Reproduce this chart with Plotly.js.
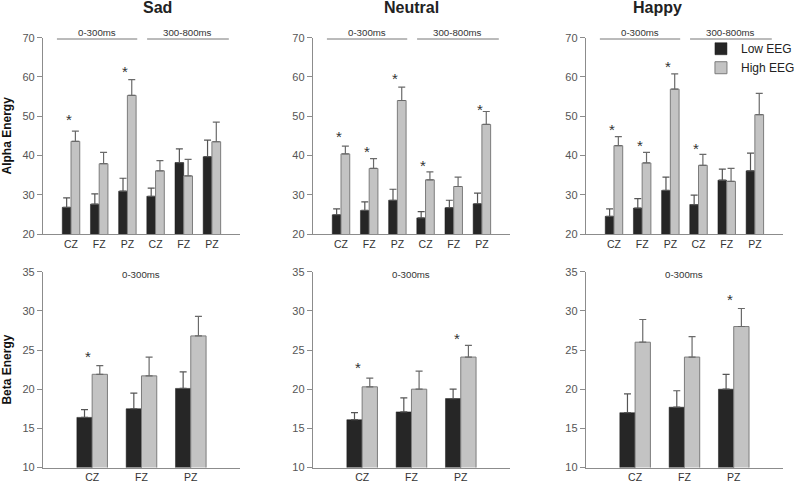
<!DOCTYPE html>
<html>
<head>
<meta charset="utf-8">
<script src="https://cdn.plot.ly/plotly-3.0.1.min.js"></script>
<style>html,body{margin:0;padding:0;background:#fff;}#chart{width:800px;height:482px;}</style>
</head>
<body>
<div id="chart"></div>
<script>
// ---------- data ----------
const emotions = ['Sad', 'Neutral', 'Happy'];
const alphaCats = ['CZ', 'FZ', 'PZ', 'CZ', 'FZ', 'PZ'];
const betaCats = ['CZ', 'FZ', 'PZ'];
const seriesNames = ['Low EEG', 'High EEG'];
const windowLabels = ['0-300ms', '300-800ms'];

// Alpha energy (0-300ms: first three, 300-800ms: last three)
const sadAlphaLow = [26.8, 27.6, 30.9, 29.6, 38.2, 39.7];
const sadAlphaLowErr = [2.4, 2.6, 3.3, 2.1, 3.5, 4.2];
const sadAlphaHigh = [43.6, 37.9, 55.3, 36.1, 34.8, 43.5];
const sadAlphaHighErr = [2.6, 2.9, 4.0, 2.6, 4.2, 5.0];

const neutralAlphaLow = [24.9, 26.0, 28.6, 24.1, 26.7, 27.7];
const neutralAlphaLowErr = [1.5, 2.2, 2.8, 1.6, 1.9, 2.7];
const neutralAlphaHigh = [40.4, 36.7, 54.0, 33.8, 32.1, 47.9];
const neutralAlphaHighErr = [2.0, 2.5, 3.4, 2.0, 2.4, 3.3];

const happyAlphaLow = [24.5, 26.6, 31.1, 27.5, 33.7, 36.1];
const happyAlphaLowErr = [1.9, 2.4, 3.4, 2.4, 2.8, 4.5];
const happyAlphaHigh = [42.5, 38.1, 56.9, 37.5, 33.4, 50.4];
const happyAlphaHighErr = [2.3, 2.7, 3.9, 2.8, 3.3, 5.4];

// Beta energy (0-300ms)
const sadBetaLow = [16.4, 17.5, 20.1];
const sadBetaLowErr = [1.0, 2.0, 2.1];
const sadBetaHigh = [21.9, 21.7, 26.8];
const sadBetaHighErr = [1.1, 2.4, 2.5];

const neutralBetaLow = [16.1, 17.1, 18.8];
const neutralBetaLowErr = [0.9, 1.8, 1.2];
const neutralBetaHigh = [20.3, 20.0, 24.1];
const neutralBetaHighErr = [1.1, 2.3, 1.5];

const happyBetaLow = [17.0, 17.7, 20.0];
const happyBetaLowErr = [2.4, 2.1, 1.9];
const happyBetaHigh = [26.0, 24.1, 28.0];
const happyBetaHighErr = [2.9, 2.6, 2.3];

// significance markers: category index and height
const sadAlphaStarIdx = [0, 2];
const sadAlphaStarY = [49.9, 62.2];
const neutralAlphaStarIdx = [0, 1, 2, 3, 5];
const neutralAlphaStarY = [45.5, 41.8, 60.3, 38.1, 52.5];
const happyAlphaStarIdx = [0, 1, 2, 3];
const happyAlphaStarY = [47.5, 43.3, 63.3, 42.6];
const sadBetaStarIdx = [0];
const sadBetaStarY = [24.6];
const neutralBetaStarIdx = [0, 2];
const neutralBetaStarY = [23.1, 26.8];
const happyBetaStarIdx = [2];
const happyBetaStarY = [31.8];

const alphaTicks = [20, 30, 40, 50, 60, 70];
const betaTicks = [10, 15, 20, 25, 30, 35];

// ---------- styling ----------
const FONT = 'Liberation Sans, Arial, sans-serif';
const LOW_COLOR = '#262626';
const HIGH_COLOR = '#c3c3c3';
const HIGH_LINE = '#7c7c7c';
const AXIS_COLOR = '#8c8c8c';

const panels = [
  {low: sadAlphaLow, lowErr: sadAlphaLowErr, high: sadAlphaHigh, highErr: sadAlphaHighErr, cats: alphaCats, starIdx: sadAlphaStarIdx, starY: sadAlphaStarY, row: 0, col: 0},
  {low: neutralAlphaLow, lowErr: neutralAlphaLowErr, high: neutralAlphaHigh, highErr: neutralAlphaHighErr, cats: alphaCats, starIdx: neutralAlphaStarIdx, starY: neutralAlphaStarY, row: 0, col: 1},
  {low: happyAlphaLow, lowErr: happyAlphaLowErr, high: happyAlphaHigh, highErr: happyAlphaHighErr, cats: alphaCats, starIdx: happyAlphaStarIdx, starY: happyAlphaStarY, row: 0, col: 2},
  {low: sadBetaLow, lowErr: sadBetaLowErr, high: sadBetaHigh, highErr: sadBetaHighErr, cats: betaCats, starIdx: sadBetaStarIdx, starY: sadBetaStarY, row: 1, col: 0},
  {low: neutralBetaLow, lowErr: neutralBetaLowErr, high: neutralBetaHigh, highErr: neutralBetaHighErr, cats: betaCats, starIdx: neutralBetaStarIdx, starY: neutralBetaStarY, row: 1, col: 1},
  {low: happyBetaLow, lowErr: happyBetaLowErr, high: happyBetaHigh, highErr: happyBetaHighErr, cats: betaCats, starIdx: happyBetaStarIdx, starY: happyBetaStarY, row: 1, col: 2}
];

const W = 800, H = 482;
const colX = [[43, 241], [314, 512], [588, 786]];
const rowY = [[37.7, 234], [271.7, 467.5]];

const traces = [];
const layout = {
  width: W, height: H,
  margin: {l: 0, r: 0, t: 0, b: 0},
  paper_bgcolor: '#fff', plot_bgcolor: '#fff',
  barmode: 'group', bargap: 0.38, bargroupgap: 0,
  font: {family: FONT, size: 11, color: '#333'},
  showlegend: true,
  legend: {x: 0.8795, y: 0.929, xanchor: 'left', yanchor: 'top', bgcolor: 'rgba(0,0,0,0)',
           font: {family: FONT, size: 12, color: '#222'}, tracegroupgap: 0, itemwidth: 30},
  annotations: [], shapes: []
};

panels.forEach((p, i) => {
  const n = i + 1;
  const xa = 'x' + (n === 1 ? '' : n), ya = 'y' + (n === 1 ? '' : n);
  const xKey = 'xaxis' + (n === 1 ? '' : n), yKey = 'yaxis' + (n === 1 ? '' : n);
  const pos = p.cats.map((_, k) => k);
  const errStyle = (arr, color) => ({type: 'data', symmetric: false, array: arr, arrayminus: arr.map(() => 0),
                                      color: color, thickness: 1.2, width: 3.5});
  traces.push({type: 'bar', x: pos, y: p.low, name: seriesNames[0], legendgroup: 'low', showlegend: i === 2,
               marker: {color: LOW_COLOR, line: {color: '#1a1a1a', width: 0.5}},
               error_y: errStyle(p.lowErr, '#555'), xaxis: xa, yaxis: ya, hoverinfo: 'y'});
  traces.push({type: 'bar', x: pos, y: p.high, name: seriesNames[1], legendgroup: 'high', showlegend: i === 2,
               marker: {color: HIGH_COLOR, line: {color: HIGH_LINE, width: 1}},
               error_y: errStyle(p.highErr, '#6a6a6a'), xaxis: xa, yaxis: ya, hoverinfo: 'y'});
  // significance asterisks, placed through the panel's own axes
  p.starIdx.forEach((k, j) => {
    layout.annotations.push({xref: xa, yref: ya, x: k - 0.08, y: p.starY[j], text: '*', showarrow: false,
                             yanchor: 'middle', yshift: -3,
                             font: {family: FONT, size: 15, color: '#333'}});
  });

  const cx = colX[p.col], ry = rowY[p.row];
  layout[xKey] = {domain: [cx[0] / W, cx[1] / W], anchor: ya, range: [-1, p.cats.length],
                  tickmode: 'array', tickvals: pos, ticktext: p.cats, ticks: '',
                  showline: true, linecolor: AXIS_COLOR, linewidth: 1, showgrid: false, zeroline: false,
                  tickfont: {family: FONT, size: 10.5, color: '#333'}, fixedrange: true};
  const ticks = p.row === 0 ? alphaTicks : betaTicks;
  layout[yKey] = {domain: [1 - ry[1] / H, 1 - ry[0] / H], anchor: xa,
                  range: [ticks[0], ticks[ticks.length - 1]], tickmode: 'array', tickvals: ticks,
                  ticks: 'outside', ticklen: 5, tickcolor: AXIS_COLOR, tickwidth: 1,
                  showline: true, linecolor: AXIS_COLOR, linewidth: 1, showgrid: false, zeroline: false,
                  tickfont: {family: FONT, size: 11, color: '#555'}, fixedrange: true};
  if (p.col === 0) {
    layout[yKey].title = {text: p.row === 0 ? 'Alpha Energy' : 'Beta Energy', standoff: 13,
                          font: {family: FONT, size: 12, color: '#111', weight: 'bold'}};
  }

  // time-window brackets
  if (p.row === 0) {
    const spans = [[-0.5, 2.35], [2.7, 5.6]];
    spans.forEach((s, k) => {
      layout.shapes.push({type: 'line', xref: xa, yref: 'paper', x0: s[0], x1: s[1],
                          y0: 1 - 39 / H, y1: 1 - 39 / H, line: {color: '#777', width: 1}});
      layout.annotations.push({xref: xa, yref: 'paper', x: (s[0] + s[1]) / 2, y: 1 - 33 / H,
                               text: windowLabels[k], showarrow: false, yanchor: 'middle',
                               font: {family: FONT, size: 9.7, color: '#333'}});
    });
    layout.annotations.push({xref: 'paper', yref: 'paper', x: (cx[0] + cx[1]) / 2 / W, y: 1 - 7.5 / H,
                             text: '<b>' + emotions[p.col] + '</b>', showarrow: false, yanchor: 'middle',
                             font: {family: FONT, size: 16, color: '#222'}});
  } else {
    layout.annotations.push({xref: xa, yref: 'paper', x: 1, y: 1 - 274 / H,
                             text: windowLabels[0], showarrow: false, yanchor: 'middle',
                             font: {family: FONT, size: 9.7, color: '#333'}});
  }
});

Plotly.newPlot('chart', traces, layout, {displayModeBar: false, staticPlot: true});
</script>
</body>
</html>
